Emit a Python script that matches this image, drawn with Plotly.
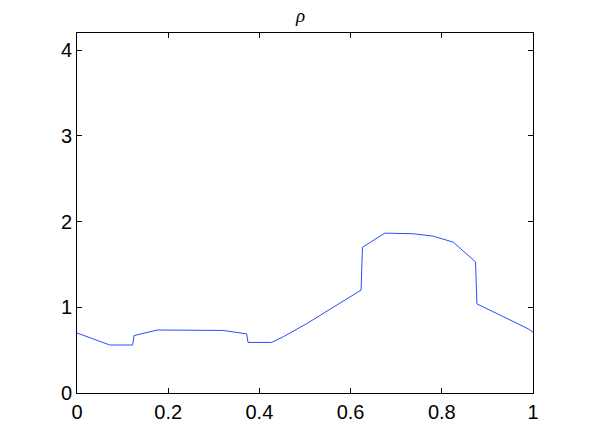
import plotly.graph_objects as go

# values
x_vals = [0.0, 0.072, 0.122, 0.125, 0.176, 0.32, 0.372, 0.375, 0.427, 0.452,
          0.504, 0.562, 0.623, 0.626, 0.675, 0.737, 0.781, 0.825, 0.874,
          0.877, 0.989, 1.0]
rho_vals = [0.70, 0.56, 0.56, 0.67, 0.735, 0.73, 0.69, 0.59, 0.59, 0.655,
            0.81, 1.0, 1.20, 1.70, 1.865, 1.858, 1.83, 1.76, 1.53,
            1.04, 0.75, 0.71]
x_ticks = [0, 0.2, 0.4, 0.6, 0.8, 1]
x_tick_labels = ["0", "0.2", "0.4", "0.6", "0.8", "1"]
y_ticks = [0, 1, 2, 3, 4]

fig = go.Figure()
fig.add_trace(
    go.Scatter(
        x=x_vals,
        y=rho_vals,
        mode="lines",
        line={"color": "#2a4dff", "width": 1},
        showlegend=False,
    )
)

axis_style = dict(
    showline=True,
    linecolor="black",
    linewidth=1,
    mirror="ticks",
    ticks="inside",
    ticklen=5,
    tickcolor="black",
    showgrid=False,
    zeroline=False,
    tickfont=dict(family="Liberation Sans, Arial, sans-serif", size=20, color="black"),
)

# page body adds ~8px offset, margins compensate for it
fig.update_layout(
    width=589,
    height=441,
    margin={"l": 69, "r": 64, "t": 25, "b": 56},
    paper_bgcolor="white",
    plot_bgcolor="white",
    xaxis=dict(range=[0, 1], tickvals=x_ticks, ticktext=x_tick_labels,
               ticklabelstandoff=1, **axis_style),
    yaxis=dict(range=[0, 4.2], tickvals=y_ticks, ticklabelstandoff=0, **axis_style),
)

# title as annotation just above the plot
fig.add_annotation(
    text="<i>ρ</i>",
    xref="paper",
    yref="paper",
    x=0.49,
    y=1,
    xanchor="center",
    yanchor="bottom",
    yshift=5,
    showarrow=False,
    font=dict(family="Liberation Serif, serif", size=19, color="black"),
)

fig.write_html("out.html")
